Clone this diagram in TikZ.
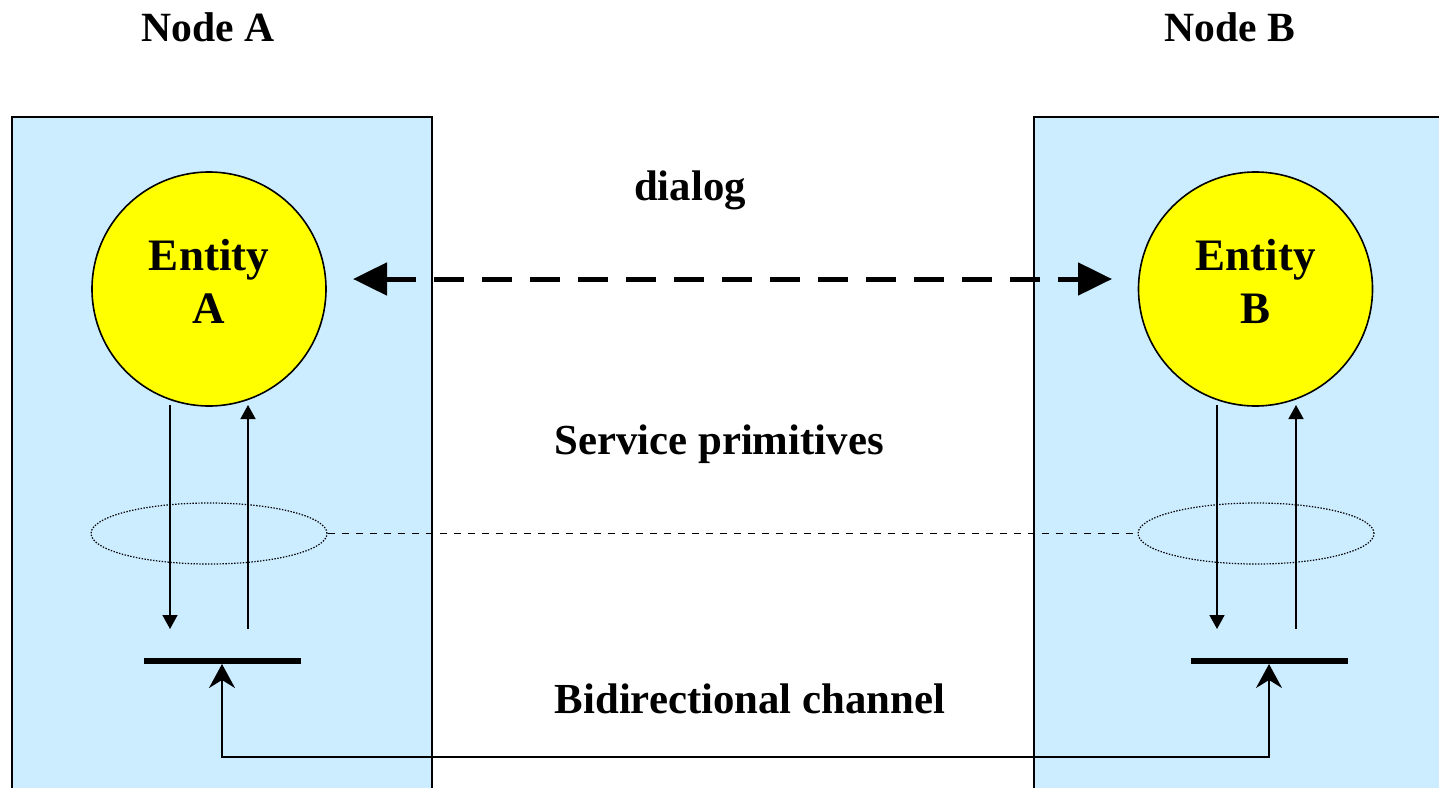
\documentclass[tikz,border=0pt]{standalone}
\usepackage{fontspec}
\setmainfont{Liberation Serif}
\usetikzlibrary{arrows.meta,shapes.geometric}
\definecolor{nodebg}{RGB}{204,236,255}
\definecolor{entityfill}{RGB}{255,255,0}
\begin{document}
\begin{tikzpicture}[x=0.5pt,y=-0.5pt,
  nodebox/.style={draw=black, line width=1pt, fill=nodebg, anchor=north west,
    inner sep=0pt, outer sep=0pt},
  entity/.style={circle, draw=black, line width=0.8pt, fill=entityfill,
    minimum size=117pt, inner sep=0pt},
  entitytext/.style={align=center, font=\fontsize{22.5}{26.5}\selectfont\bfseries},
  title/.style={font=\fontsize{20.8}{24}\selectfont\bfseries},
  caption/.style={font=\fontsize{21.4}{25}\selectfont\bfseries},
  dialogline/.style={line width=2.5pt, dash pattern=on 15pt off 9pt,
    {Triangle[length=17pt,width=16pt]}-{Triangle[length=17pt,width=16pt]}},
  primitive/.style={line width=0.75pt, -{Triangle[length=7pt,width=7.5pt]}},
  group/.style={ellipse, draw, line width=0.6pt, dash pattern=on 0.7pt off 0.75pt,
    minimum width=118pt, minimum height=30.5pt, inner sep=0pt},
  grouplink/.style={line width=0.7pt, dash pattern=on 3.5pt off 3.5pt},
  bar/.style={line width=3pt},
  channel/.style={line width=1pt,
    {Stealth[length=12pt,width=13pt,inset=4pt]}-{Stealth[length=12pt,width=13pt,inset=4pt]}}
]
\useasboundingbox (0,0) rectangle (1439,787);

% node areas
\node[nodebox, minimum width=210pt, minimum height=345pt] (boxA) at (12,117) {};
\node[nodebox, minimum width=210pt, minimum height=345pt] (boxB) at (1034,117) {};

% titles
\node[title] (titleA) at (208,27) {Node A};
\node[title] (titleB) at (1230,27) {Node B};

% entities
\node[entity] (entA) at (209,289) {};
\node[entity] (entB) at (1255.5,289) {};
\node[entitytext] (labA) at (209,281) {Entity\\A};
\node[entitytext] (labB) at (1255.5,281) {Entity\\B};

% peer dialog
\node[caption] (dialog) at (690,190) {dialog};
\coordinate (dA) at (353,279);
\coordinate (dB) at (1112,279);
\draw[dialogline] (dA) -- (dB);

% service primitives
\node[caption] (prim) at (719,444) {Service primitives};
\coordinate (downA1) at (170,405);
\coordinate (downA2) at (170,629);
\coordinate (upA1) at (248,629);
\coordinate (upA2) at (248,405);
\coordinate (downB1) at (1217,405);
\coordinate (downB2) at (1217,629);
\coordinate (upB1) at (1296,629);
\coordinate (upB2) at (1296,405);
\draw[primitive] (downA1) -- (downA2);
\draw[primitive] (upA1) -- (upA2);
\draw[primitive] (downB1) -- (downB2);
\draw[primitive] (upB1) -- (upB2);

% grouping of the primitives
\node[group] (grpA) at (209,533.5) {};
\node[group] (grpB) at (1256,533.5) {};
\draw[grouplink] (grpA.east) -- (grpB.west);

% service access points
\coordinate (barA1) at (144,661);
\coordinate (barA2) at (301,661);
\coordinate (barB1) at (1191,661);
\coordinate (barB2) at (1348,661);
\draw[bar] (barA1) -- (barA2);
\draw[bar] (barB1) -- (barB2);

% bidirectional channel
\node[caption] (chan) at (750,699) {Bidirectional channel};
\coordinate (chA) at (222,664);
\coordinate (chAc) at (222,757);
\coordinate (chBc) at (1269,757);
\coordinate (chB) at (1269,664);
\draw[channel] (chA) -- (chAc) -- (chBc) -- (chB);
\end{tikzpicture}
\end{document}
